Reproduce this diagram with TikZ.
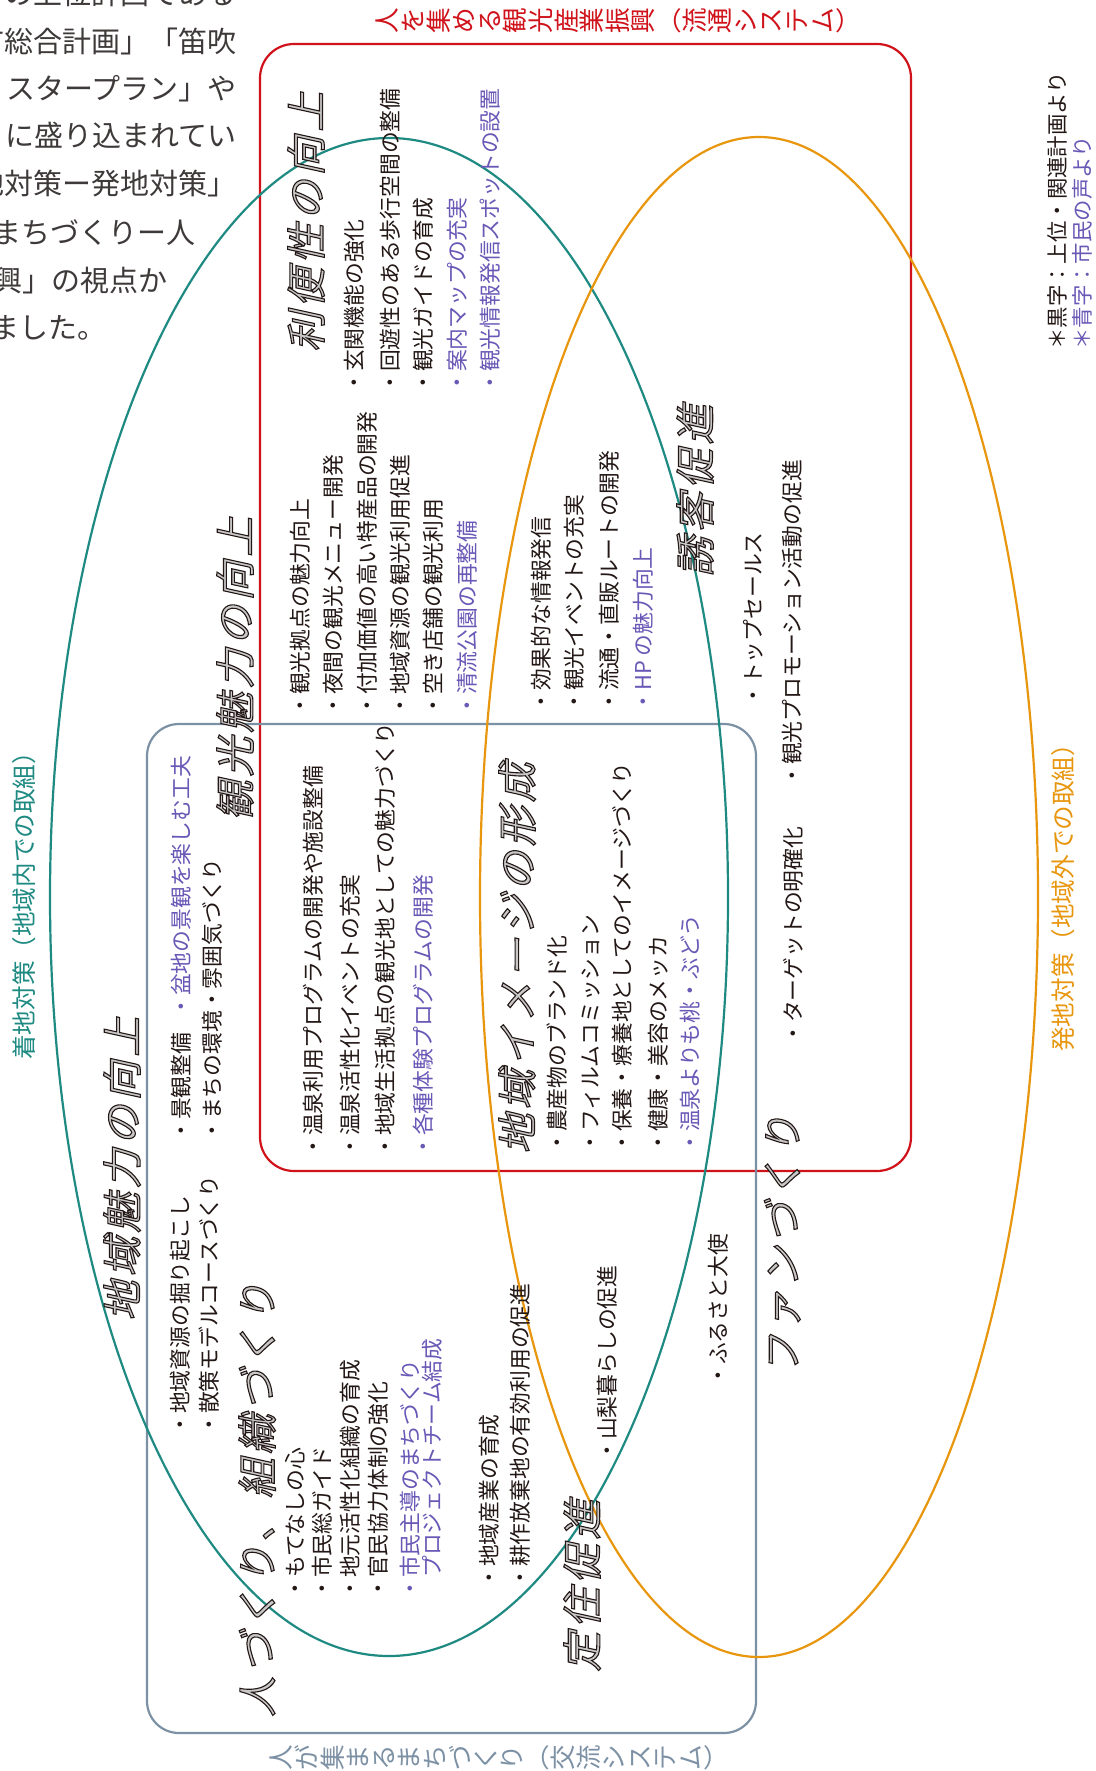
\documentclass[tikz,border=0pt]{standalone}
\usepackage{fontspec}
\usepackage{graphicx}
\setmainfont{Noto Sans CJK JP}
\newfontfamily\headfont[FakeSlant=0.22,LetterSpace=10]{Noto Sans CJK JP}
\definecolor{cred}{HTML}{D0121B}
\definecolor{cteal}{HTML}{1E8A82}
\definecolor{corange}{HTML}{E8960E}
\definecolor{cslate}{HTML}{7D91A5}
\definecolor{cpurple}{HTML}{6A58B6}
\definecolor{cblack}{HTML}{231815}
\definecolor{cpara}{HTML}{3E3A39}
\definecolor{chead}{HTML}{C8C8C8}
\makeatletter
\newcommand\tatechar[1]{%
  \ifx#1（\raisebox{0.12em}{\makebox[1em][c]{（}}%
  \else\ifx#1）\raisebox{0.12em}{\makebox[1em][c]{）}}%
  \else\rotatebox{90}{\makebox[1em][c]{\rule[-0.12em]{0pt}{1em}#1}}\fi\fi}
\def\tate@loop#1{\ifx#1\@nil\else\tatechar{#1}\expandafter\tate@loop\fi}
\newcommand\tate[1]{\tate@loop#1\@nil}
\makeatother
\newcommand\outl[1]{\special{pdf:literal direct 0.137 0.094 0.082 RG 2 Tr 0.55 w}#1\special{pdf:literal direct 0 Tr}}
\tikzset{
  itm/.style={rotate=90, anchor=west, inner sep=0pt, text height=9.6pt, text depth=1.3pt,
    font=\fontsize{10.9pt}{12pt}\selectfont, text=cblack},
  itp/.style={itm, text=cpurple},
  head/.style={rotate=90, anchor=west, inner sep=0pt, text height=17.6pt, text depth=2.4pt,
    font=\headfont\fontsize{20pt}{22pt}\selectfont, text=chead},
  side/.style={rotate=90, anchor=west, inner sep=0pt, text height=10.8pt, text depth=1.5pt,
    font=\fontsize{12.3pt}{14pt}\selectfont},
  note/.style={rotate=90, anchor=west, inner sep=0pt, text height=9.4pt, text depth=1.3pt,
    font=\fontsize{10.7pt}{12pt}\selectfont, text=cblack},
  tatenode/.style={anchor=west, inner sep=0pt, font=\fontsize{12.8pt}{14pt}\selectfont},
  para/.style={inner sep=0pt, text height=12.76pt, text depth=1.74pt,
    font=\fontsize{14.5pt}{16pt}\selectfont, text=cpara},
  frame/.style={line width=1.1pt},
}
\begin{document}
\begin{tikzpicture}[x=0.5pt,y=-0.5pt]
\useasboundingbox (0,0) rectangle (1096,1771);
\clip (0,0) rectangle (1096,1771);
\fill[white] (0,0) rectangle (1096,1771);

% frames
\draw[frame, cred, rounded corners=17pt] (260,44) rectangle (911,1171);
\draw[frame, cslate, rounded corners=16pt] (147,724) rectangle (756,1733);
\draw[frame, cteal] (389,897) ellipse [x radius=339, y radius=759];
\draw[frame, corange] (759,897) ellipse [x radius=279, y radius=760];

% paragraph at top left
\node[para, anchor=east] (p1) at (237,-7) {の上位計画である};
\node[para, anchor=east] (p2) at (237,41) {市総合計画」「笛吹};
\node[para, anchor=east] (p3) at (237,88) {スタープラン」や};
\node[para, anchor=east] (p4) at (237,135) {に盛り込まれてい};
\node[para, anchor=east] (p5) at (237,183) {地対策ー発地対策」};
\node[para, anchor=west] (p6) at (-8,232) {まちづくりー人};
\node[para, anchor=west] (p7) at (-7,280) {興」の視点か};
\node[para, anchor=west] (p8) at (-10,327) {ました。};

% outer labels
\node[tatenode, text=cred] (toplab) at (374,21) {\tate{人を集める観光産業振興（流通システム）}};
\node[tatenode, text=cslate] (botlab) at (268,1758) {\tate{人が集まるまちづくり（交流システム）}};
\node[side, text=cteal] (leftlab) at (24,1060) {着地対策（地域内での取組）};
\node[side, text=corange] (rightlab) at (1063,1052) {発地対策（地域外での取組）};
\node[note] (note1) at (1057,350) {＊黒字：上位・関連計画より};
\node[note, text=cpurple] (note2) at (1082,350) {＊青字：市民の声より};

% headings
\node[head] (h1) at (306,352) {\outl{利便性の向上}};
\node[head] (h2) at (235,821) {\outl{観光魅力の向上}};
\node[head] (h3) at (122,1321) {\outl{地域魅力の向上}};
\node[head] (h4) at (257,1717) {\outl{人づくり、組織づくり}};
\node[head] (h5) at (517,1154) {\outl{地域イメージの形成}};
\node[head] (h6) at (695,577) {\outl{誘客促進}};
\node[head] (h7) at (782,1375) {\outl{ファンづくり}};
\node[head] (h8) at (582,1672) {\outl{定住促進}};

% block A
\node[itm] (a1) at (354,394) {・玄関機能の強化};
\node[itm] (a2) at (390,394) {・回遊性のある歩行空間の整備};
\node[itm] (a3) at (423,394) {・観光ガイドの育成};
\node[itp] (a4) at (457,394) {・案内マップの充実};
\node[itp] (a5) at (490,394) {・観光情報発信スポットの設置};

% block B
\node[itm] (b1) at (300,717) {・観光拠点の魅力向上};
\node[itm] (b2) at (333,717) {・夜間の観光メニュー開発};
\node[itm] (b3) at (367,717) {・付加価値の高い特産品の開発};
\node[itm] (b4) at (400,717) {・地域資源の観光利用促進};
\node[itm] (b5) at (433,717) {・空き店舗の観光利用};
\node[itp] (b6) at (467,717) {・清流公園の再整備};

% block C
\node[itm] (c1) at (541,713) {・効果的な情報発信};
\node[itm] (c2) at (574,713) {・観光イベントの充実};
\node[itm] (c3) at (609,713) {・流通・直販ルートの開発};
\node[itp] (c4) at (643,713) {・HP の魅力向上};

% block D, E
\node[itm] (d1) at (753,707) {・トップセールス};
\node[itm] (d2) at (792,787) {・観光プロモーション活動の促進};
\node[itm] (e1) at (793,1045) {・ターゲットの明確化};

% block F, G
\node[itm] (f1) at (181,1142) {・景観整備};
\node[itp] (f2) at (181,1018) {・盆地の景観を楽しむ工夫};
\node[itm] (f3) at (212,1142) {・まちの環境・雰囲気づくり};
\node[itm] (g1) at (180,1436) {・地域資源の掘り起こし};
\node[itm] (g2) at (209,1436) {・散策モデルコースづくり};

% block H
\node[itm] (hh1) at (313,1158) {・温泉利用プログラムの開発や施設整備};
\node[itm] (hh2) at (350,1158) {・温泉活性化イベントの充実};
\node[itm] (hh3) at (385,1158) {・地域生活拠点の観光地としての魅力づくり};
\node[itp] (hh4) at (423,1158) {・各種体験プログラムの開発};

% block I
\node[itm] (i1) at (557,1154) {・農産物のブランド化};
\node[itm] (i2) at (590,1154) {・フィルムコミッション};
\node[itm] (i3) at (622,1154) {・保養・療養地としてのイメージづくり};
\node[itm] (i4) at (658,1154) {・健康・美容のメッカ};
\node[itp] (i5) at (690,1154) {・温泉よりも桃・ぶどう};

% block J
\node[itm] (j1) at (295,1600) {・もてなしの心};
\node[itm] (j2) at (322,1600) {・市民総ガイド};
\node[itm] (j3) at (350,1600) {・地元活性化組織の育成};
\node[itm] (j4) at (378,1600) {・官民協力体制の強化};
\node[itp] (j5) at (410,1600) {・市民主導のまちづくり};
\node[itp] (j6) at (432,1578) {プロジェクトチーム結成};

% block K, L, M
\node[itm] (k1) at (489,1589) {・地域産業の育成};
\node[itm] (k2) at (520,1589) {・耕作放棄地の有効利用の促進};
\node[itm] (l1) at (607,1462) {・山梨暮らしの促進};
\node[itm] (m1) at (718,1387) {・ふるさと大使};
\end{tikzpicture}
\end{document}
